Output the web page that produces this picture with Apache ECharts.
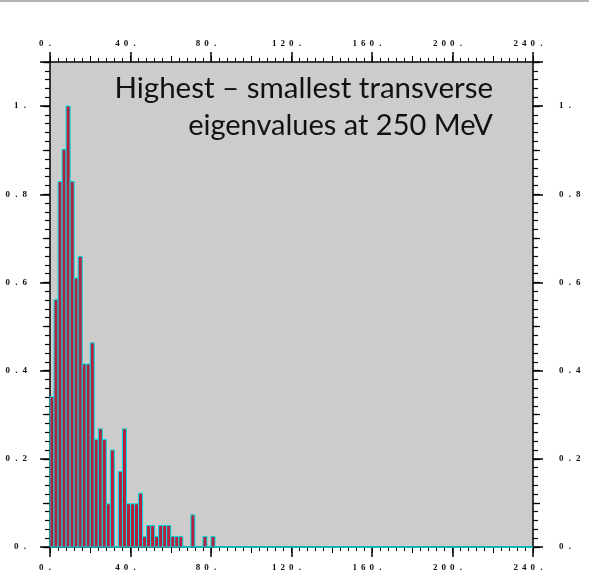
<!DOCTYPE html>
<html>
<head>
<meta charset="utf-8">
<title>Highest – smallest transverse eigenvalues at 250 MeV</title>
<script src="https://cdn.jsdelivr.net/npm/echarts@6/dist/echarts.min.js"></script>
<style>
  html, body { margin: 0; padding: 0; background: #ffffff; }
  #chart { width: 589px; height: 584px; }
</style>
</head>
<body>
<div id="chart"></div>
<script>
// Histogram bins: each bin spans 2 units, starting at 0.
const binWidth = 2;
const binStarts = [];
for (let i = 0; i < 120; i++) binStarts.push(i * binWidth);

// Normalised bin heights (peak bin = 1); empty bins continue out to 240.
const binHeights = [
  0.341, 0.561, 0.829, 0.902, 1.000, 0.829, 0.610, 0.659, 0.415, 0.415,
  0.463, 0.244, 0.268, 0.244, 0.098, 0.220, 0.000, 0.171, 0.268, 0.098,
  0.098, 0.098, 0.122, 0.024, 0.049, 0.049, 0.024, 0.049, 0.049, 0.049,
  0.024, 0.024, 0.024, 0.000, 0.000, 0.073, 0.000, 0.000, 0.024, 0.000,
  0.024
];
while (binHeights.length < binStarts.length) binHeights.push(0);

// Tick labels
const xTickValues = [0, 40, 80, 120, 160, 200, 240];
const xTickLabels = ['0.', '40.', '80.', '120.', '160.', '200.', '240.'];
const yTickValues = [0, 0.2, 0.4, 0.6, 0.8, 1.0];
const yTickLabels = ['0.', '0.2', '0.4', '0.6', '0.8', '1.'];

const titleLines = ['Highest – smallest transverse', 'eigenvalues at 250 MeV'];

// Spread characters out into fixed-width cells
function spaced(str) {
  return str.split('').map(ch => '{c|' + ch + '}').join('');
}
function lookup(values, labels, v) {
  for (let i = 0; i < values.length; i++) {
    if (Math.abs(values[i] - v) < 1e-6) return spaced(labels[i]);
  }
  return '';
}

const labelRich = {
  c: {
    width: 8.5,
    align: 'center',
    fontFamily: 'Liberation Serif',
    fontWeight: 'bold',
    fontSize: 9,
    color: '#111111'
  }
};

const AXIS_COLOR = '#000000';

function majorX(position) {
  return {
    type: 'value', position: position, min: 0, max: 240, interval: 40,
    axisLine: { show: true, onZero: false, lineStyle: { color: AXIS_COLOR, width: 1.5 } },
    axisTick: { show: true, length: 10, lineStyle: { color: AXIS_COLOR, width: 1.5 } },
    splitLine: { show: false },
    axisLabel: {
      show: true, margin: position === 'top' ? 14 : 16,
      align: 'center', padding: [0, 9, 0, 0],
      formatter: v => lookup(xTickValues, xTickLabels, v),
      rich: labelRich
    }
  };
}
function tickOnlyX(position, interval, len, width) {
  return {
    type: 'value', position: position, min: 0, max: 240, interval: interval,
    axisLine: { show: false, onZero: false },
    axisTick: { show: true, length: len, lineStyle: { color: AXIS_COLOR, width: width } },
    axisLabel: { show: false },
    splitLine: { show: false }
  };
}
function majorY(position) {
  const left = position === 'left';
  return {
    type: 'value', position: position, min: 0, max: 1.1, interval: 0.2,
    axisLine: { show: true, onZero: false, lineStyle: { color: AXIS_COLOR, width: 1.5 } },
    axisTick: { show: true, length: 10, lineStyle: { color: AXIS_COLOR, width: 1.5 } },
    splitLine: { show: false },
    axisLabel: {
      show: true, margin: left ? 21 : 24,
      align: left ? 'right' : 'left',
      formatter: v => lookup(yTickValues, yTickLabels, v),
      rich: labelRich
    }
  };
}
function tickOnlyY(position, interval, len, width) {
  return {
    type: 'value', position: position, min: 0, max: 1.1, interval: interval,
    axisLine: { show: false, onZero: false },
    axisTick: { show: true, length: len, lineStyle: { color: AXIS_COLOR, width: width } },
    axisLabel: { show: false },
    splitLine: { show: false }
  };
}

const chart = echarts.init(document.getElementById('chart'), null, { renderer: 'canvas' });

chart.setOption({
  animation: false,
  backgroundColor: '#ffffff',
  grid: {
    left: 50, right: 56, top: 62, bottom: 37,
    show: true, backgroundColor: '#cccccc', borderWidth: 0
  },
  xAxis: [
    majorX('bottom'),
    majorX('top'),
    tickOnlyX('bottom', 20, 6, 1),
    tickOnlyX('top', 20, 6, 1),
    tickOnlyX('bottom', 4, 4, 1),
    tickOnlyX('top', 4, 4, 1)
  ],
  yAxis: [
    majorY('left'),
    majorY('right'),
    tickOnlyY('left', 0.1, 7, 1.2),
    tickOnlyY('right', 0.1, 7, 1.2),
    tickOnlyY('left', 0.02, 5, 1.2),
    tickOnlyY('right', 0.02, 5, 1.2)
  ],
  graphic: [
    {
      type: 'rect', left: 0, top: 0, silent: true,
      shape: { width: 589, height: 2 },
      style: { fill: '#b3b3b3' }
    },
    {
      type: 'text', silent: true, z: 10,
      style: {
        x: 493, y: 88, text: titleLines[0],
        align: 'right', verticalAlign: 'middle',
        font: '29.5px Lato', fill: '#111111'
      }
    },
    {
      type: 'text', silent: true, z: 10,
      style: {
        x: 493, y: 126, text: titleLines[1],
        align: 'right', verticalAlign: 'middle',
        font: '29px Lato', fill: '#111111'
      }
    }
  ],
  series: [{
    type: 'custom',
    xAxisIndex: 0,
    yAxisIndex: 0,
    clip: false,
    data: binStarts.map((x, i) => [x, binHeights[i]]),
    renderItem: function (params, api) {
      const x0 = api.value(0);
      const h = api.value(1);
      const p0 = api.coord([x0, h]);
      const p1 = api.coord([x0 + binWidth, 0]);
      return {
        type: 'rect',
        shape: { x: p0[0], y: p0[1], width: p1[0] - p0[0], height: p1[1] - p0[1] },
        style: { fill: '#b2213f', stroke: '#00e0e0', lineWidth: 1 }
      };
    }
  }]
});
</script>
</body>
</html>
